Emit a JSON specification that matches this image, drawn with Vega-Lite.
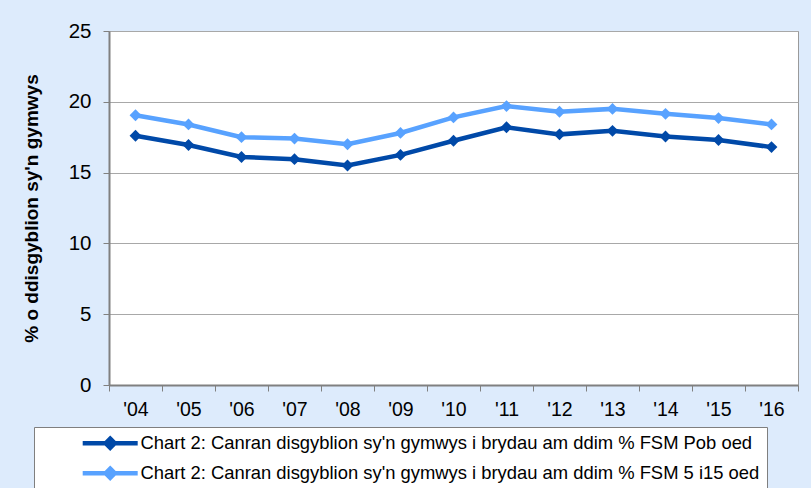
{
  "$schema": "https://vega.github.io/schema/vega-lite/v6.json",
  "width": 689,
  "height": 354,
  "autosize": {"type": "none"},
  "padding": {"left": 109, "top": 31, "right": 13, "bottom": 103},
  "background": "#DDEBFC",
  "config": {
    "font": "Liberation Sans",
    "view": {"fill": "white", "stroke": "#9a9a9a", "strokeWidth": 1}
  },
  "data": {
    "values": [
      {"year": "'04", "series": "Chart 2: Canran disgyblion sy'n gymwys i brydau am ddim % FSM Pob oed", "value": 17.6},
      {"year": "'05", "series": "Chart 2: Canran disgyblion sy'n gymwys i brydau am ddim % FSM Pob oed", "value": 16.95},
      {"year": "'06", "series": "Chart 2: Canran disgyblion sy'n gymwys i brydau am ddim % FSM Pob oed", "value": 16.1},
      {"year": "'07", "series": "Chart 2: Canran disgyblion sy'n gymwys i brydau am ddim % FSM Pob oed", "value": 15.95},
      {"year": "'08", "series": "Chart 2: Canran disgyblion sy'n gymwys i brydau am ddim % FSM Pob oed", "value": 15.5},
      {"year": "'09", "series": "Chart 2: Canran disgyblion sy'n gymwys i brydau am ddim % FSM Pob oed", "value": 16.25},
      {"year": "'10", "series": "Chart 2: Canran disgyblion sy'n gymwys i brydau am ddim % FSM Pob oed", "value": 17.25},
      {"year": "'11", "series": "Chart 2: Canran disgyblion sy'n gymwys i brydau am ddim % FSM Pob oed", "value": 18.2},
      {"year": "'12", "series": "Chart 2: Canran disgyblion sy'n gymwys i brydau am ddim % FSM Pob oed", "value": 17.7},
      {"year": "'13", "series": "Chart 2: Canran disgyblion sy'n gymwys i brydau am ddim % FSM Pob oed", "value": 17.95},
      {"year": "'14", "series": "Chart 2: Canran disgyblion sy'n gymwys i brydau am ddim % FSM Pob oed", "value": 17.55},
      {"year": "'15", "series": "Chart 2: Canran disgyblion sy'n gymwys i brydau am ddim % FSM Pob oed", "value": 17.3},
      {"year": "'16", "series": "Chart 2: Canran disgyblion sy'n gymwys i brydau am ddim % FSM Pob oed", "value": 16.8},
      {"year": "'04", "series": "Chart 2: Canran disgyblion sy'n gymwys i brydau am ddim % FSM 5 i15 oed", "value": 19.05},
      {"year": "'05", "series": "Chart 2: Canran disgyblion sy'n gymwys i brydau am ddim % FSM 5 i15 oed", "value": 18.4},
      {"year": "'06", "series": "Chart 2: Canran disgyblion sy'n gymwys i brydau am ddim % FSM 5 i15 oed", "value": 17.5},
      {"year": "'07", "series": "Chart 2: Canran disgyblion sy'n gymwys i brydau am ddim % FSM 5 i15 oed", "value": 17.4},
      {"year": "'08", "series": "Chart 2: Canran disgyblion sy'n gymwys i brydau am ddim % FSM 5 i15 oed", "value": 17.0},
      {"year": "'09", "series": "Chart 2: Canran disgyblion sy'n gymwys i brydau am ddim % FSM 5 i15 oed", "value": 17.8},
      {"year": "'10", "series": "Chart 2: Canran disgyblion sy'n gymwys i brydau am ddim % FSM 5 i15 oed", "value": 18.9},
      {"year": "'11", "series": "Chart 2: Canran disgyblion sy'n gymwys i brydau am ddim % FSM 5 i15 oed", "value": 19.7},
      {"year": "'12", "series": "Chart 2: Canran disgyblion sy'n gymwys i brydau am ddim % FSM 5 i15 oed", "value": 19.3},
      {"year": "'13", "series": "Chart 2: Canran disgyblion sy'n gymwys i brydau am ddim % FSM 5 i15 oed", "value": 19.5},
      {"year": "'14", "series": "Chart 2: Canran disgyblion sy'n gymwys i brydau am ddim % FSM 5 i15 oed", "value": 19.15},
      {"year": "'15", "series": "Chart 2: Canran disgyblion sy'n gymwys i brydau am ddim % FSM 5 i15 oed", "value": 18.85},
      {"year": "'16", "series": "Chart 2: Canran disgyblion sy'n gymwys i brydau am ddim % FSM 5 i15 oed", "value": 18.4}
    ]
  },
  "encoding": {
    "x": {
      "field": "year",
      "type": "ordinal",
      "sort": null,
      "scale": {"paddingInner": 0, "paddingOuter": 0},
      "axis": {
        "title": null,
        "labelAngle": 0,
        "labelFontSize": 19.5,
        "labelColor": "black",
        "labelPadding": 9,
        "tickBand": "extent",
        "tickSize": 6,
        "tickColor": "#808080",
        "domainColor": "#808080",
        "domainWidth": 2,
        "grid": false
      }
    },
    "y": {
      "field": "value",
      "type": "quantitative",
      "scale": {"domain": [0, 25]},
      "axis": {
        "title": "% o ddisgyblion sy'n gymwys",
        "titleFontSize": 19,
        "titleFontWeight": "bold",
        "titleColor": "black",
        "titlePadding": 27,
        "values": [0, 5, 10, 15, 20, 25],
        "labelFontSize": 20.5,
        "labelColor": "black",
        "labelPadding": 12,
        "tickSize": 6,
        "tickColor": "#808080",
        "domainColor": "#808080",
        "domainWidth": 2,
        "gridColor": "#a8a8a8",
        "gridWidth": 1
      }
    },
    "color": {
      "field": "series",
      "type": "nominal",
      "scale": {
        "domain": [
          "Chart 2: Canran disgyblion sy'n gymwys i brydau am ddim % FSM Pob oed",
          "Chart 2: Canran disgyblion sy'n gymwys i brydau am ddim % FSM 5 i15 oed"
        ],
        "range": ["#0049A8", "#58A2FF"]
      },
      "legend": {
        "title": null,
        "orient": "none",
        "legendX": -75,
        "legendY": 396,
        "direction": "vertical",
        "fillColor": "white",
        "strokeColor": "#7f7f7f",
        "padding": 7,
        "labelFontSize": 18.4,
        "labelColor": "black",
        "labelLimit": 0,
        "labelExpr": "datum.label + '\u00a0\u00a0\u00a0\u00a0\u00a0\u00a0\u00a0\u00a0'",
        "rowPadding": 2,
        "symbolType": "M-5.5,0H5.5M0,-0.9L0.9,0L0,0.9L-0.9,0Z",
        "symbolSize": 100,
        "symbolStrokeWidth": 4.5,
        "symbolOffset": 60,
        "labelOffset": 21,
        "encode": {
          "symbols": {
            "update": {
              "fill": {"scale": "color", "field": "value"},
              "stroke": {"scale": "color", "field": "value"},
              "opacity": {"value": 1}
            }
          }
        }
      }
    }
  },
  "layer": [
    {"mark": {"type": "line", "strokeWidth": 4.5}},
    {"mark": {"type": "point", "shape": "diamond", "filled": true, "size": 140, "opacity": 1}}
  ]
}
